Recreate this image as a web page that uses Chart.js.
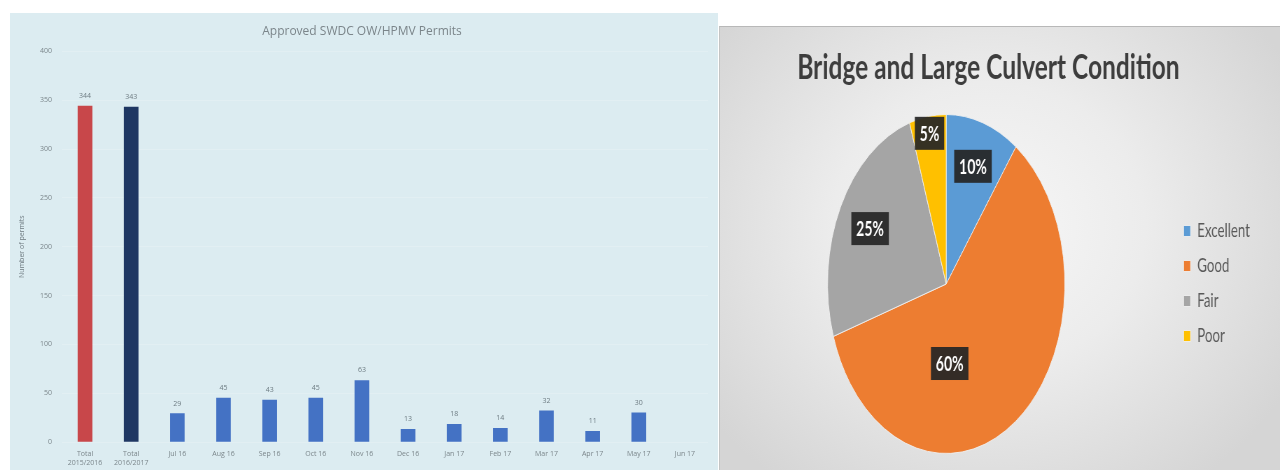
<!DOCTYPE html>
<html>
<head>
<meta charset="utf-8">
<script src="https://cdn.jsdelivr.net/npm/chart.js@4.4.1/dist/chart.umd.min.js"></script>
<style>
  html, body { margin: 0; padding: 0; background: #ffffff; width: 1280px; height: 470px; overflow: hidden; }
  #permitsPanel { position: absolute; left: 10px; top: 13px; width: 708px; height: 457px; background: #dcecf1; }
  #conditionPanel {
    position: absolute; left: 719px; top: 26px; width: 561px; height: 444px; overflow: hidden;
    background: radial-gradient(ellipse 62% 72% at 48% 45%, #f7f7f7 0%, #ececec 45%, #d5d5d5 100%);
    border-top: 1px solid #b8b8b8; border-left: 1px solid #c4c4c4; box-sizing: border-box;
  }
  /* the condition chart is drawn wide and squeezed horizontally */
  #conditionCanvas { position: absolute; left: 0; top: 0; transform: scaleX(0.7); transform-origin: 0 0; }
</style>
</head>
<body>
<div id="permitsPanel"><canvas id="permitsCanvas" width="708" height="457"></canvas></div>
<div id="conditionPanel"><canvas id="conditionCanvas" width="767" height="444"></canvas></div>
<script>
// ---- Approved permits per period ----
const permitCategories = [
  ['Total', '2015/2016'], ['Total', '2016/2017'],
  'Jul 16', 'Aug 16', 'Sep 16', 'Oct 16', 'Nov 16', 'Dec 16',
  'Jan 17', 'Feb 17', 'Mar 17', 'Apr 17', 'May 17', 'Jun 17'
];
const permitCounts = [344, 343, 29, 45, 43, 45, 63, 13, 18, 14, 32, 11, 30, null];
const permitTicks = [0, 50, 100, 150, 200, 250, 300, 350, 400];

// ---- Bridge and large culvert condition (% of structures) ----
const conditionLabels = ['Excellent', 'Good', 'Fair', 'Poor'];
const conditionShares = [10, 60, 25, 5];

// styling
const permitBarColors = ['#c8474a', '#1f3763'].concat(new Array(12).fill('#4472c4'));
const conditionColors = ['#5b9bd5', '#ed7d31', '#a5a5a5', '#ffc000'];
// where each percentage badge sits: fraction along the slice angle, fraction of the radius
const badgePlacement = [
  { along: 0.5, radial: 0.73 },
  { along: 0.65, radial: 0.47 },
  { along: 0.5, radial: 0.72 },
  { along: 0.5, radial: 0.9 }
];

// value printed above each bar
const barValueLabels = {
  id: 'barValueLabels',
  afterDatasetsDraw(chart) {
    const { ctx } = chart;
    const meta = chart.getDatasetMeta(0);
    const values = chart.data.datasets[0].data;
    ctx.save();
    ctx.font = '7px "Open Sans"';
    ctx.fillStyle = '#6d7b82';
    ctx.textAlign = 'center';
    ctx.textBaseline = 'middle';
    meta.data.forEach((bar, i) => {
      if (values[i] == null) return;
      ctx.fillText(String(values[i]), bar.x, bar.y - 10);
    });
    ctx.restore();
  }
};

// dark percentage badges on the pie slices
const sliceBadges = {
  id: 'sliceBadges',
  afterDatasetsDraw(chart) {
    const { ctx } = chart;
    const meta = chart.getDatasetMeta(0);
    const values = chart.data.datasets[0].data;
    ctx.save();
    ctx.font = 'bold 20px Lato';
    ctx.textAlign = 'center';
    ctx.textBaseline = 'middle';
    meta.data.forEach((arc, i) => {
      const p = arc.getProps(['x', 'y', 'startAngle', 'endAngle', 'outerRadius'], true);
      const place = badgePlacement[i];
      const a = p.startAngle + (p.endAngle - p.startAngle) * place.along;
      const r = p.outerRadius * place.radial;
      const cx = p.x + Math.cos(a) * r;
      const cy = p.y + Math.sin(a) * r;
      const text = values[i] + '%';
      const w = ctx.measureText(text).width + 14;
      const h = 33;
      ctx.fillStyle = 'rgba(38,38,38,0.93)';
      ctx.fillRect(cx - w / 2, cy - h / 2, w, h);
      ctx.fillStyle = '#ffffff';
      ctx.fillText(text, cx, cy + 1);
    });
    ctx.restore();
  }
};

new Chart(document.getElementById('permitsCanvas'), {
  type: 'bar',
  data: {
    labels: permitCategories,
    datasets: [{
      data: permitCounts,
      backgroundColor: permitBarColors,
      barThickness: 14
    }]
  },
  options: {
    responsive: false,
    animation: false,
    layout: { padding: { left: 6, right: 10, top: 0, bottom: 2 } },
    plugins: {
      legend: { display: false },
      tooltip: { enabled: false },
      title: {
        display: true,
        text: 'Approved SWDC OW/HPMV Permits',
        color: '#7b858a',
        font: { family: 'Open Sans', size: 12, weight: 'normal' },
        padding: { top: 11, bottom: 13 }
      }
    },
    scales: {
      x: {
        afterFit(scale) { scale.height = 26; },
        grid: { display: false, drawTicks: false },
        border: { display: false },
        ticks: {
          color: '#7b868b',
          font: { family: 'Open Sans', size: 7, lineHeight: 1.25 },
          padding: 8,
          maxRotation: 0,
          autoSkip: false
        }
      },
      y: {
        min: 0,
        max: 400,
        afterBuildTicks(scale) { scale.ticks = permitTicks.map(v => ({ value: v })); },
        afterFit(scale) { scale.width = 46; },
        grid: { color: 'rgba(232,243,247,0.45)', drawTicks: false },
        border: { display: false },
        ticks: {
          color: '#7b868b',
          font: { family: 'Open Sans', size: 7 },
          padding: 10
        },
        title: {
          display: true,
          text: 'Number of permits',
          color: '#6e7a80',
          font: { family: 'Open Sans', size: 7 },
          padding: { top: 2, bottom: 2 }
        }
      }
    }
  },
  plugins: [barValueLabels]
});

new Chart(document.getElementById('conditionCanvas'), {
  type: 'pie',
  data: {
    labels: conditionLabels,
    datasets: [{
      data: conditionShares,
      backgroundColor: conditionColors,
      borderColor: 'rgba(240,240,240,0.9)',
      borderWidth: 1
    }]
  },
  options: {
    responsive: false,
    animation: false,
    layout: { padding: { left: 0, right: 0, top: 0, bottom: 17 } },
    plugins: {
      tooltip: { enabled: false },
      title: {
        display: true,
        text: 'Bridge and Large Culvert Condition',
        color: '#3d3d3d',
        font: { family: 'Lato', size: 35, weight: 'bold' },
        padding: { top: 20, bottom: 25 }
      },
      legend: {
        position: 'right',
        title: { display: true, text: '', font: { size: 10 }, padding: 37 },
        labels: {
          boxWidth: 10,
          boxHeight: 11,
          padding: 16,
          color: '#595959',
          font: { family: 'Lato', size: 19 }
        }
      }
    }
  },
  plugins: [sliceBadges]
});
</script>
</body>
</html>
